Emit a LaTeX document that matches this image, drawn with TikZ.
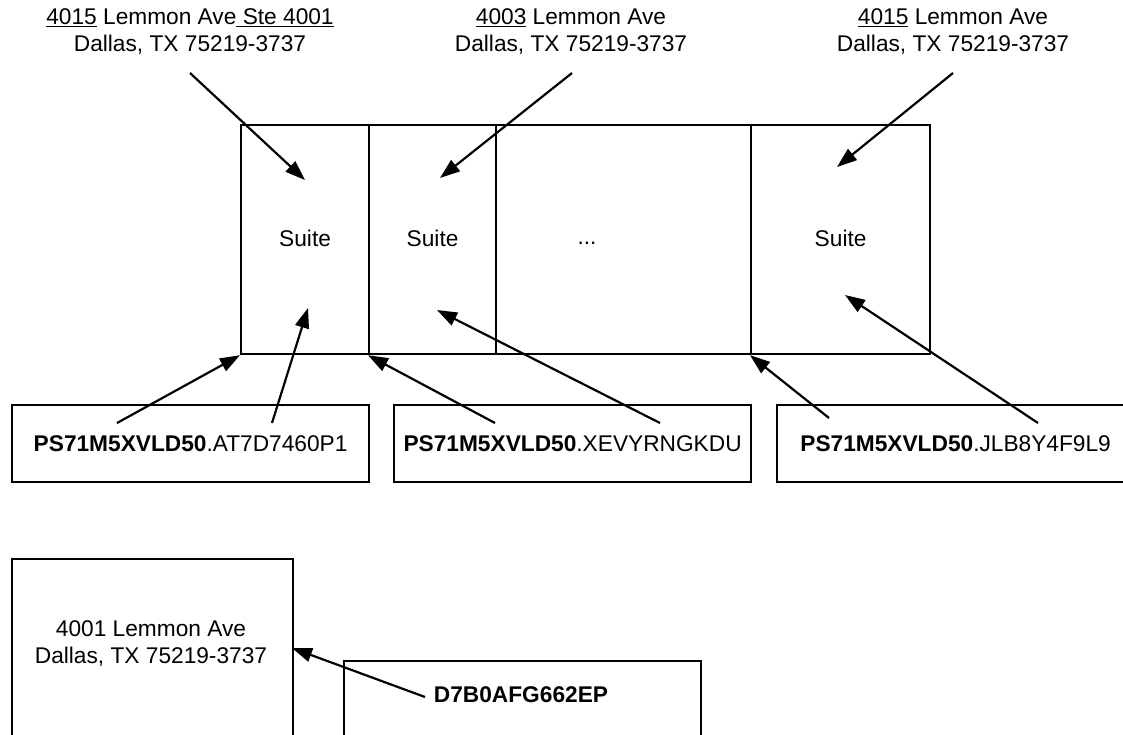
\documentclass[tikz,border=0pt]{standalone}
\usepackage{fontspec}
\setmainfont{Liberation Sans}
\usetikzlibrary{arrows.meta}
\begin{document}
\begin{tikzpicture}[x=1pt,y=-1pt,
  cell/.style={draw,line width=2.2pt,inner sep=0pt,anchor=north west,font=\fontsize{22.7}{27}\selectfont},
  idbox/.style={draw,line width=2.2pt,inner sep=0pt,anchor=north west,minimum width=357pt,minimum height=77pt,font=\fontsize{22.7}{27}\selectfont},
  conn/.style={line width=2.2pt,-{Triangle[length=20pt,width=14pt]}},
  txt/.style={font=\fontsize{22.7}{27}\selectfont,align=center,inner sep=0pt}]
\useasboundingbox (0,0) rectangle (1123,734);
% top labels
\node[txt] (a1) at (190,32) {\underline{4015} Lemmon Ave\underline{\ Ste 4001}\\Dallas, TX 75219-3737};
\node[txt] (a2) at (571,32) {\underline{4003} Lemmon Ave\\Dallas, TX 75219-3737};
\node[txt] (a3) at (953,32) {\underline{4015} Lemmon Ave\\Dallas, TX 75219-3737};
% suite cells
\node[cell,minimum width=128pt,minimum height=229pt] (c1) at (240,124) {\raisebox{3pt}{Suite}};
\node[cell,minimum width=127pt,minimum height=229pt] (c2) at (368,124) {\raisebox{3pt}{Suite}};
\node[cell,minimum width=255pt,minimum height=229pt] (c3) at (495,124) {};
\node[txt,anchor=base] (dots) at (587,244) {...};
\node[cell,minimum width=179pt,minimum height=229pt] (c4) at (750,124) {\raisebox{3pt}{Suite}};
% id boxes
\node[idbox] (b1) at (11,404) {\textbf{PS71M5XVLD50}.AT7D7460P1};
\node[idbox] (b2) at (393,404) {\textbf{PS71M5XVLD50}.XEVYRNGKDU};
\node[idbox] (b3) at (776,404) {\textbf{PS71M5XVLD50}.JLB8Y4F9L9};
% bottom
\node[cell,minimum width=281pt,minimum height=200pt] (d1) at (11,558) {};
\node[txt] (d1t) at (151,644) {4001 Lemmon Ave\\Dallas, TX 75219-3737};
\node[cell,minimum width=357pt,minimum height=120pt] (d2) at (343,660) {};
\node[txt,font=\fontsize{22.7}{27}\selectfont\bfseries] (d2t) at (521,695) {D7B0AFG662EP};
% connector endpoints
\coordinate (s1) at (190,73);
\coordinate (e1) at (305,180);
\coordinate (s2) at (572,73);
\coordinate (e2) at (440,178);
\coordinate (s3) at (953,73);
\coordinate (e3) at (837,167);
\coordinate (s4) at (117,423);
\coordinate (s5) at (272,423);
\coordinate (e5) at (308,308);
\coordinate (s6) at (495,423);
\coordinate (s7) at (660,423);
\coordinate (e7) at (437,310);
\coordinate (s8) at (829,418);
\coordinate (s9) at (1038,423);
\coordinate (e9) at (845,295);
\coordinate (s10) at (425,697);
\coordinate (e10) at (292,648);
\draw[conn] (s1) -- (e1);
\draw[conn] (s2) -- (e2);
\draw[conn] (s3) -- (e3);
\draw[conn] (s4) -- (c1.south west);
\draw[conn] (s5) -- (e5);
\draw[conn] (s6) -- (c2.south west);
\draw[conn] (s7) -- (e7);
\draw[conn] (s8) -- (c4.south west);
\draw[conn] (s9) -- (e9);
\draw[conn] (s10) -- (e10);
\end{tikzpicture}
\end{document}
